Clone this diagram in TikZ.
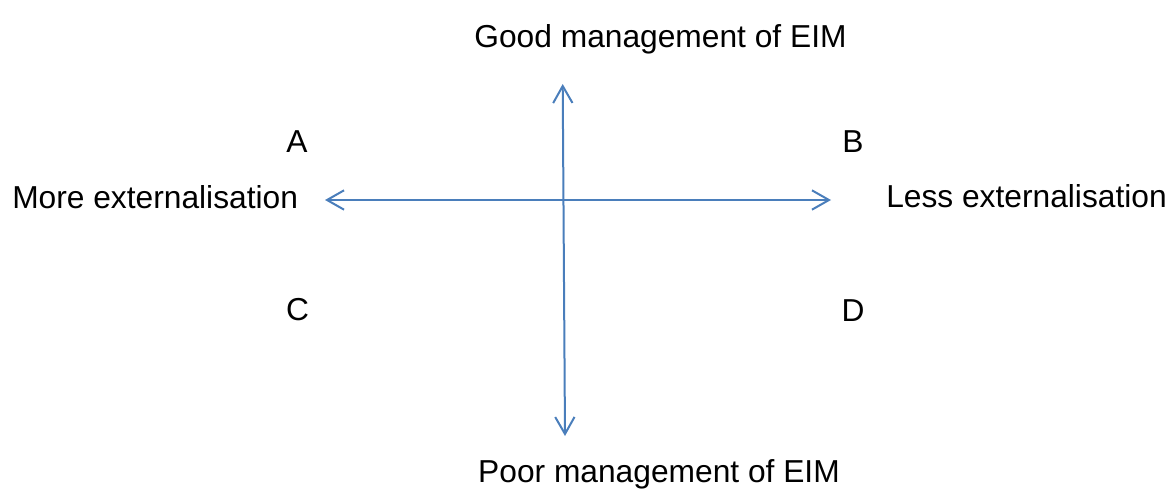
\documentclass[tikz,border=0pt]{standalone}
\usepackage{fontspec}
\setmainfont{Liberation Sans}
\usetikzlibrary{arrows.meta}
\definecolor{axisblue}{RGB}{74,126,187}
\begin{document}
\begin{tikzpicture}[x=0.75pt,y=-0.75pt,
  lbl/.style={inner sep=0pt,font=\fontsize{23.8}{28}\selectfont,text=black},
  axis/.style={draw=axisblue,line width=1.5pt,
    {Straight Barb[length=12.75pt,width=14.5pt,line width=1.5pt]}-{Straight Barb[length=12.75pt,width=14.5pt,line width=1.5pt]}}]
\useasboundingbox (0,0) rectangle (1171,489);
% axes end points
\coordinate (top) at (562.7,84);
\coordinate (bot) at (565,436);
\coordinate (lft) at (325,200);
\coordinate (rgt) at (831,200);
\draw[axis] (lft) -- (rgt);
\draw[axis] (top) -- (bot);
% labels
\node[lbl,anchor=base] (good) at (660.5,47) {Good management of EIM};
\node[lbl,anchor=base] (poor) at (659,482) {Poor management of EIM};
\node[lbl,anchor=base west] (more) at (12,208) {More externalisation};
\node[lbl,anchor=base west] (less) at (886,207) {Less externalisation};
\node[lbl,anchor=base] (qa) at (297,152.5) {A};
\node[lbl,anchor=base] (qb) at (853,152.5) {B};
\node[lbl,anchor=base] (qc) at (297.5,320.5) {C};
\node[lbl,anchor=base] (qd) at (853,321) {D};
\end{tikzpicture}
\end{document}
